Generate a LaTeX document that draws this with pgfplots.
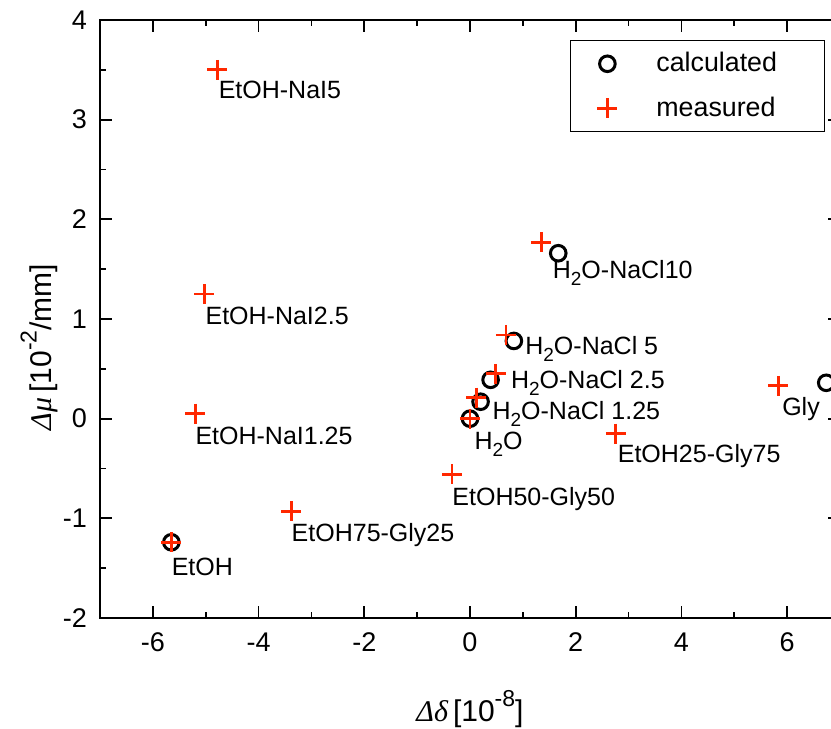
\documentclass[border=0pt]{standalone}
\usepackage{fontspec}
\setmainfont{Liberation Sans}
\newfontfamily\grk{Liberation Serif}
\usepackage{pgfplots}
\pgfplotsset{compat=1.18}
\definecolor{mred}{RGB}{255,40,0}
\tikzset{annot/.style={anchor=base west, inner sep=0pt, font=\fontsize{12.5}{14}\selectfont}}
\newcommand{\sub}[1]{\raisebox{-0.28em}{\fontsize{9.5}{10}\selectfont #1}}
\newcommand{\sups}[1]{\raisebox{0.5em}{\fontsize{11.5}{12}\selectfont #1}}
\begin{document}
\begin{tikzpicture}
\begin{axis}[
 scale only axis, width=370pt, height=299pt,
 xmin=-7, xmax=7, ymin=-2, ymax=4,
 xtick={-6,-4,...,6}, minor xtick={-5,-3,...,5},
 ytick={-2,-1,...,4}, minor ytick={-1.5,-0.5,...,3.5},
 tick align=inside, major tick length=6pt, minor tick length=3pt,
 every tick/.style={black, line width=0.9pt},
 axis line style={line width=1pt},
 /pgf/number format/assume math mode=true,
 tick label style={font=\fontsize{13.5}{15}\selectfont},
 xticklabel style={yshift=-4pt},
 yticklabel style={xshift=-3pt},
 label style={font=\fontsize{15}{17}\selectfont},
 xlabel={{\grk\itshape Δδ}\,[10\sups{-8}]},
 ylabel={{\grk\itshape Δμ}\,[10\sups{-2}/mm]},
 xlabel style={at={(axis description cs:0.5,-0.153)}, anchor=center},
 ylabel style={at={(axis description cs:-0.082,0.453)}, anchor=center},
 legend style={at={(0.98,0.967)}, anchor=north east, draw=black, line width=0.8pt,
   font=\fontsize{13.4}{15}\selectfont, inner xsep=3pt, inner ysep=4pt,
   row sep=7pt, column sep=7pt},
 legend cell align=left,
 legend image code/.code={\path[draw=none,fill=none] (0pt,0pt) (31pt,0pt); \draw[mark repeat=2,mark phase=2,#1] plot coordinates {(0pt,0pt) (15.5pt,0pt) (31pt,0pt)};},
]
\coordinate (O) at (rel axis cs:0,0);
\addplot[only marks, mark=o, mark size=3.9pt, line width=1.5pt, black] coordinates {
 (-5.65,-1.24) (0,0) (0.2,0.17) (0.39,0.39) (0.83,0.78) (1.67,1.66) (6.74,0.36)
};
\addlegendentry{\makebox[79pt][l]{calculated}}
\addplot[only marks, mark=+, mark size=5pt, line width=1.4pt, mred] coordinates {
 (-4.78,3.50) (-5.03,1.25) (-5.2,0.05) (-5.65,-1.24) (-3.38,-0.93) (-0.34,-0.56)
 (0,0) (0.12,0.21) (0.49,0.45) (0.68,0.84) (1.35,1.77) (2.76,-0.15) (5.83,0.33)
};
\addlegendentry{\makebox[79pt][l]{measured}}
\node[annot] at (axis cs:-4.76,3.21) {EtOH-NaI5};
\node[annot] at (axis cs:-5.01,0.94) {EtOH-NaI2.5};
\node[annot] at (axis cs:-5.2,-0.26) {EtOH-NaI1.25};
\node[annot] at (axis cs:-5.65,-1.57) {EtOH};
\node[annot] at (axis cs:-3.38,-1.23) {EtOH75-Gly25};
\node[annot] at (axis cs:-0.34,-0.87) {EtOH50-Gly50};
\node[annot] at (axis cs:0.08,-0.31) {H\sub{2}O};
\node[annot] at (axis cs:0.42,-0.01) {H\sub{2}O-NaCl 1.25};
\node[annot] at (axis cs:0.77,0.30) {H\sub{2}O-NaCl 2.5};
\node[annot] at (axis cs:1.04,0.64) {H\sub{2}O-NaCl 5};
\node[annot] at (axis cs:1.56,1.41) {H\sub{2}O-NaCl10};
\node[annot] at (axis cs:2.79,-0.44) {EtOH25-Gly75};
\node[annot] at (axis cs:5.9,0.03) {Gly};
\end{axis}
\pgfresetboundingbox
\useasboundingbox ([shift={(-50pt,-55.5pt)}]O) rectangle ([shift={(365.5pt,309pt)}]O);
\end{tikzpicture}
\end{document}
